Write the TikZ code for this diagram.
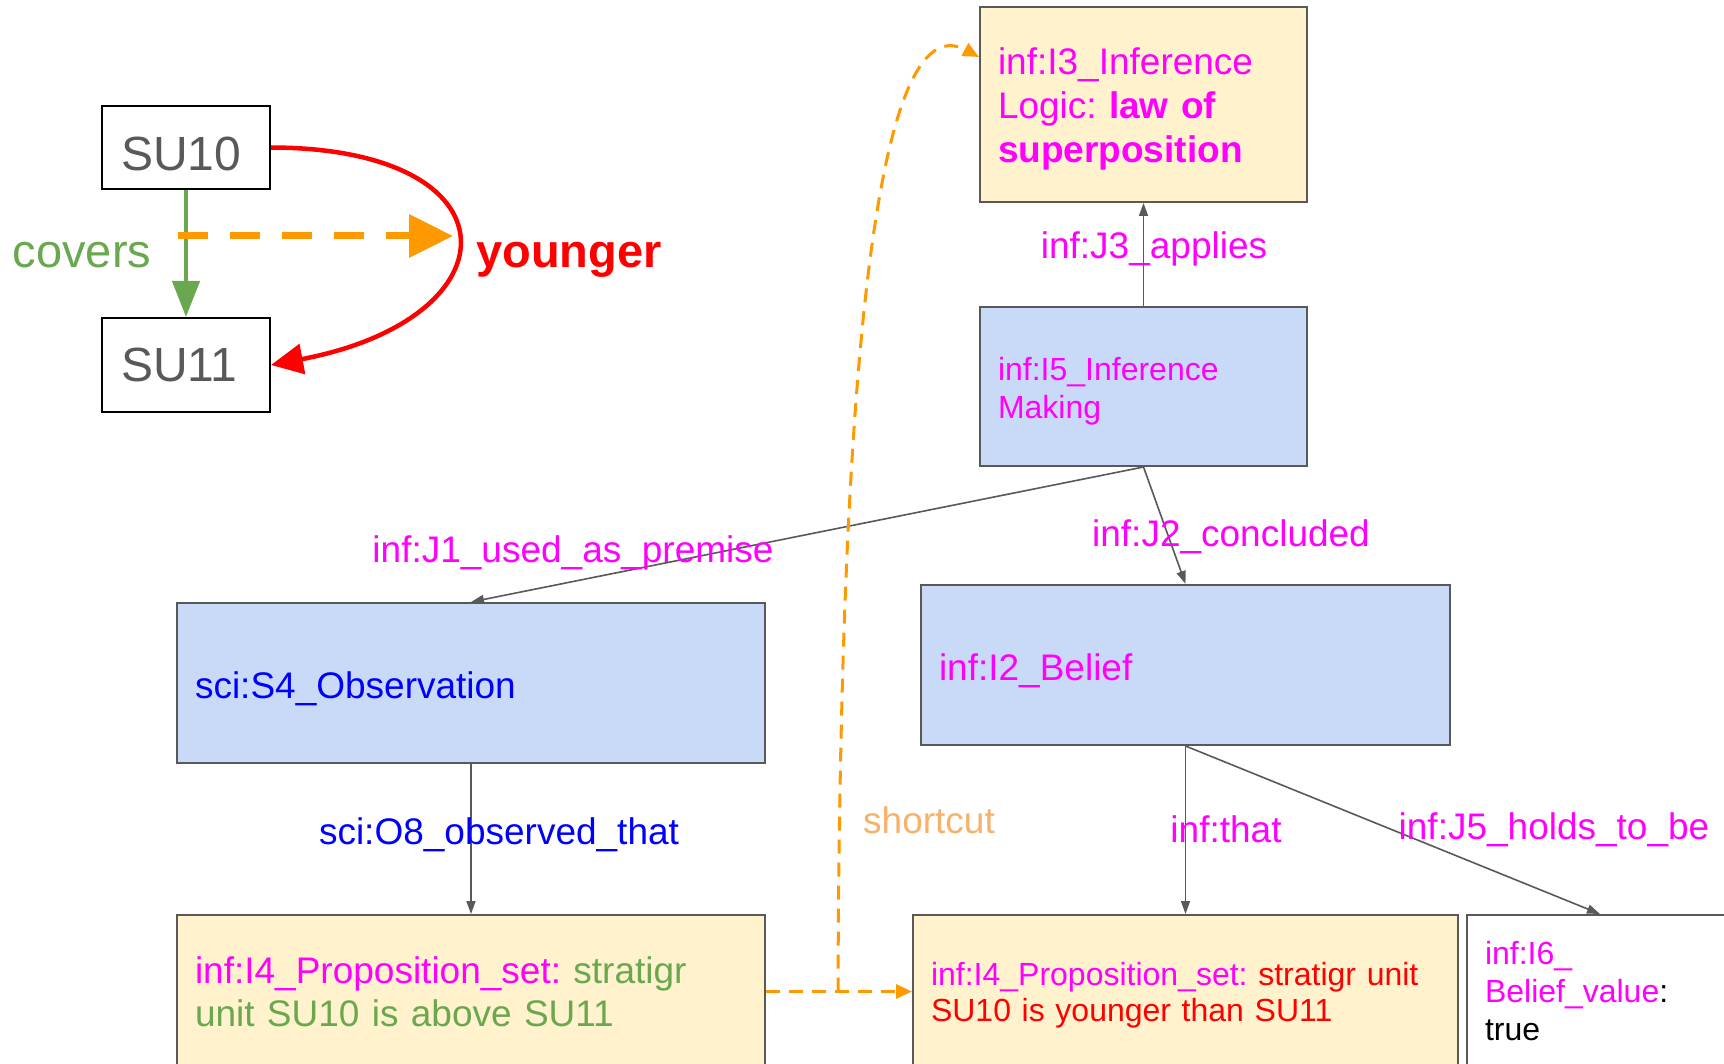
\documentclass[tikz,border=0pt]{standalone}
\usepackage{fontspec}
\setmainfont{Liberation Sans}
\usetikzlibrary{arrows.meta}
\frenchspacing
\definecolor{mag}{HTML}{FF00FF}
\definecolor{blu}{HTML}{0000FF}
\definecolor{grn}{HTML}{6AA84F}
\definecolor{rd}{HTML}{FF0000}
\definecolor{org}{HTML}{FF9900}
\definecolor{lorg}{HTML}{F6B26B}
\definecolor{yel}{HTML}{FFF2CC}
\definecolor{lblue}{HTML}{C9DAF8}
\definecolor{gry}{HTML}{595959}
\begin{document}
\begin{tikzpicture}[x=1pt,y=-1pt,
  box/.style={draw=gry, line width=2pt, inner xsep=18pt, inner ysep=0pt, align=left, anchor=center},
  fsa/.style={font=\fontsize{37}{44}\selectfont},
  fsb/.style={font=\fontsize{32}{38}\selectfont},
  down/.style={execute at begin node={\rule{0pt}{#1}}},
  conn/.style={draw=gry, line width=1.6pt, -{Triangle[length=13pt,width=9pt]}},
  lab/.style={anchor=base, inner sep=0pt, text=mag, fsa},
  subox/.style={draw=black, line width=2pt, minimum width=168pt, inner xsep=19pt, inner ysep=0pt, text width=130pt, align=left, text=gry, font=\fontsize{48}{57}\selectfont},
  sc/.style={draw=org, line width=3pt, dash pattern=on 14pt off 9pt, -{Triangle[length=16pt,width=14pt]}}]
\useasboundingbox (0,0) rectangle (1724,1064);
\clip (0,0) rectangle (1724,1064);
\fill[white] (0,0) rectangle (1724,1064);

% top-left
\node[subox, minimum height=83pt, down=46.5pt] (su10) at (186,147.5) {SU10};
\node[subox, minimum height=94pt] (su11) at (186,365) {SU11};
\draw[grn, line width=4.5pt, -{Triangle[length=36pt,width=27pt]}] (su10.south) -- (su11.north);
\coordinate (oa) at (178,236);
\coordinate (ob) at (453,236);
\draw[org, line width=7pt, dash pattern=on 30pt off 22pt, -{Triangle[length=44pt,width=42pt]}] (oa) -- (ob);
\draw[rd, line width=4.5pt, -{Triangle[length=32pt,width=30pt]}] (su10.east) .. controls (520,148) and (518,318) .. (su11.east);
\node[anchor=base, inner sep=0pt, text=grn, font=\fontsize{47}{56}\selectfont] (cov) at (82,268) {covers};
\node[anchor=base west, inner sep=0pt, text=rd, font=\fontsize{47}{56}\selectfont\bfseries] (yng) at (476,268) {younger};

% boxes
\node[box, fill=yel, text width=291pt, minimum height=195pt, fsa, text=mag, down=36pt] (i3) at (1143.5,104.5)
  {inf:I3\_Inference\\Logic: \textbf{law of}\\\textbf{superposition}};
\node[box, fill=lblue, text width=291pt, minimum height=159pt, fsb, text=mag, down=32.5pt] (i5) at (1143.5,386.5)
  {inf:I5\_Inference\\Making};
\node[box, fill=lblue, text width=552pt, minimum height=160pt, fsa, text=blu, down=38.5pt] (s4) at (471,683)
  {sci:S4\_Observation};
\node[box, fill=lblue, text width=493pt, minimum height=160pt, fsa, text=mag, down=38pt] (i2) at (1185.5,665)
  {inf:I2\_Belief};
\node[box, fill=yel, text width=552pt, minimum height=153pt, font=\fontsize{37}{43}\selectfont, text=grn] (p1) at (471,991.5)
  {{\color{mag}inf:I4\_Proposition\_set:} stratigr\\unit SU10 is above SU11};
\node[box, fill=yel, text width=509pt, minimum height=153pt, font=\fontsize{32}{36}\selectfont, text=rd, down=30pt] (p2) at (1185.5,991.5)
  {{\color{mag}inf:I4\_Proposition\_set:} stratigr unit\\SU10 is younger than SU11};
\node[box, fill=white, text width=230pt, minimum height=153pt, fsb, text=mag] (i6) at (1600,991.5)
  {inf:I6\_\\Belief\_value{\color{black}:}\\{\color{black}true}};

% connectors
\draw[conn] (i5.north) -- (i3.south);
\draw[conn] (i5.south) -- (s4.north);
\draw[conn] (i5.south) -- (i2.north);
\draw[conn] (s4.south) -- (p1.north);
\draw[conn] (i2.south) -- (p2.north);
\draw[conn] (i2.south) -- (i6.north);

% labels
\node[lab] (lj3) at (1154,259) {inf:J3\_applies};
\node[lab] (lj1) at (573,562) {inf:J1\_used\_as\_premise};
\node[lab] (lj2) at (1231,546) {inf:J2\_concluded};
\node[lab, text=blu] (lo8) at (499,844) {sci:O8\_observed\_that};
\node[lab] (lth) at (1226,842) {inf:that};
\node[lab] (lj5) at (1554,839) {inf:J5\_holds\_to\_be};
\node[lab, text=lorg] (lsc) at (929,833) {shortcut};

% shortcut
\coordinate (scs) at (838,991.5);
\draw[sc] (p1.east) -- (p2.west);
\draw[sc] (scs) .. controls (840,400) and (872,0) .. ([yshift=-51pt]i3.north west);
\end{tikzpicture}
\end{document}
